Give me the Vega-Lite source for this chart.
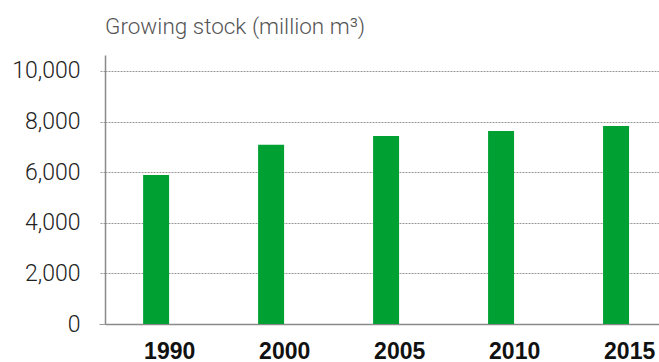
{
  "$schema": "https://vega.github.io/schema/vega-lite/v6.json",
  "width": 554,
  "height": 269,
  "autosize": {"type": "none"},
  "padding": {"left": 105, "top": 55, "right": 0, "bottom": 38},
  "background": "white",
  "title": {
    "text": "Growing stock (million m³)",
    "anchor": "start",
    "frame": "group",
    "baseline": "alphabetic",
    "offset": -1,
    "font": "Roboto",
    "fontWeight": 300,
    "fontSize": 22.5,
    "color": "#555555"
  },
  "data": {
    "values": [
      {"year": "1990", "stock": 5890},
      {"year": "2000", "stock": 7080},
      {"year": "2005", "stock": 7435},
      {"year": "2010", "stock": 7630},
      {"year": "2015", "stock": 7830}
    ]
  },
  "config": {"view": {"stroke": null}},
  "mark": {"type": "bar", "color": "#00a032"},
  "encoding": {
    "x": {
      "field": "year",
      "type": "ordinal",
      "scale": {"paddingInner": 0.774, "paddingOuter": 0.296, "align": 0.56},
      "axis": {
        "title": null,
        "labelAngle": 0,
        "labelAlign": "left",
        "labelBaseline": "top",
        "labelOffset": -12,
        "labelPadding": 16,
        "labelFont": "Liberation Sans",
        "labelFontWeight": "bold",
        "labelFontSize": 23,
        "labelColor": "#111111",
        "ticks": false,
        "domainColor": "#8a8a8a",
        "domainWidth": 1.5
      }
    },
    "y": {
      "field": "stock",
      "type": "quantitative",
      "scale": {"domain": [0, 10632], "nice": false, "zero": true},
      "axis": {
        "title": null,
        "values": [0, 2000, 4000, 6000, 8000, 10000],
        "format": ",.0f",
        "labelFont": "Roboto",
        "labelFontWeight": 300,
        "labelFontSize": 23,
        "labelColor": "#222222",
        "labelPadding": 19,
        "domainColor": "#8a8a8a",
        "domainWidth": 1.5,
        "tickSize": 6,
        "tickColor": "#999999",
        "tickDash": {"condition": {"test": "datum.value === 0", "value": []}, "value": [2, 1]},
        "tickWidth": 1,
        "grid": true,
        "gridColor": "#999999",
        "gridDash": [2, 1],
        "gridWidth": 1,
        "gridOpacity": {"condition": {"test": "datum.value === 0", "value": 0}, "value": 1}
      }
    }
  }
}
